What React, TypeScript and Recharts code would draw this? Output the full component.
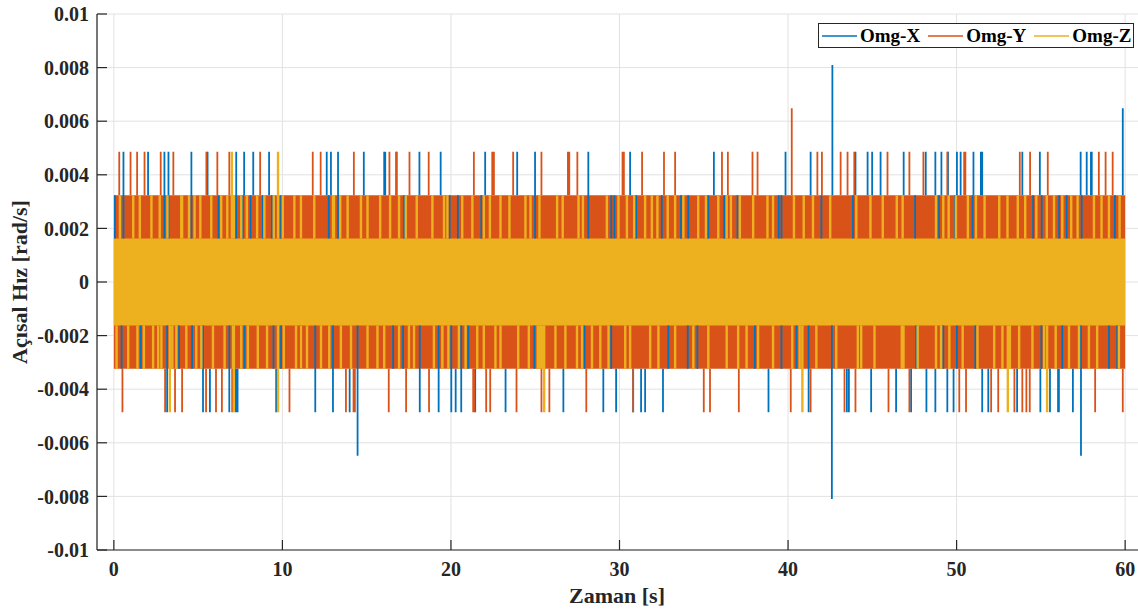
import React from 'react';
import { ComposedChart, Line, Area, XAxis, YAxis, CartesianGrid, Legend } from 'recharts';

// ---------- data ----------
const seriesNames = ['Omg-X', 'Omg-Y', 'Omg-Z'];
const seriesColors = ['#0072BD', '#D95319', '#EDB120'];

// quantisation levels of the angular rate signal (rad/s)
const levels = [0.00162, 0.00324, 0.00486, 0.00648, 0.0081];
const timeSpan = [0, 60];

const xTicks = [0, 10, 20, 30, 40, 50, 60];
const xTickLabels = ['0', '10', '20', '30', '40', '50', '60'];
const yTicks = [-0.01, -0.008, -0.006, -0.004, -0.002, 0, 0.002, 0.004, 0.006, 0.008, 0.01];
const yTickLabels = ['-0.01', '-0.008', '-0.006', '-0.004', '-0.002', '0', '0.002', '0.004', '0.006', '0.008', '0.01'];

// Omg-X (blue) peaks
const xUp3 = [0.57, 2.03, 3.0, 3.24, 4.6, 5.56, 7.26, 7.73, 8.27, 9.21, 12.63, 12.88, 13.3, 14.83, 16.04, 16.1, 16.75, 18.13, 19.39, 22.03, 23.93, 24.99, 28.15, 30.63, 35.6, 39.85, 41.34, 44.0, 44.72, 44.99, 45.49, 46.86, 48.17, 48.74, 49.1, 49.49, 50.02, 50.24, 51.0, 51.44, 51.52, 53.9, 54.94, 57.36, 57.72, 57.97, 58.02];
const xUp4 = [59.86];
const xUp5 = [42.63];
const xDn3 = [3.16, 5.29, 5.7, 6.85, 7.24, 7.34, 9.63, 11.95, 13.0, 13.99, 18.15, 19.27, 20.02, 20.28, 20.61, 21.44, 23.24, 26.67, 29.04, 29.8, 30.81, 31.28, 31.52, 32.58, 38.84, 41.22, 43.49, 43.61, 44.93, 46.41, 47.3, 48.21, 48.74, 49.45, 49.82, 51.52, 51.88, 53.59, 54.97, 55.54, 56.02, 56.07, 56.9];
const xDn4 = [14.46, 57.38];
const xDn5 = [42.6];
// Omg-X visible inside the Omg-Y band
const xBandUp = [0.06, 0.57, 3.0, 3.24, 4.6, 6.21, 7.26, 7.66, 8.11, 8.84, 9.37, 9.92, 12.75, 13.3, 17.22, 19.92, 20.41, 21.8, 24.99, 28.15, 29.51, 29.7, 30.99, 32.51, 33.65, 34.08, 35.27, 36.21, 37.0, 39.45, 39.61, 41.98, 43.85, 47.54, 48.96, 49.91, 50.95, 54.54, 55.05, 56.08, 56.53, 57.42, 59.39];
const xBandDn = [0.46, 1.6, 3.16, 3.87, 4.64, 5.29, 6.85, 7.75, 9.47, 9.92, 11.07, 11.95, 13.0, 14.46, 16.57, 17.16, 18.15, 19.27, 20.02, 20.61, 21.03, 24.95, 27.93, 29.51, 32.9, 34.05, 34.62, 38.03, 39.61, 40.5, 41.22, 42.6, 47.6, 49.21, 50.02, 51.11, 55.03, 56.27, 57.38, 59.04, 59.53];

// Omg-Y (orange) peaks
const yUp3 = [0.32, 0.99, 1.38, 1.82, 2.78, 3.53, 5.49, 6.14, 6.85, 8.68, 11.8, 12.27, 14.24, 16.35, 16.79, 17.54, 18.68, 21.36, 22.45, 22.55, 23.69, 25.37, 26.94, 27.02, 27.5, 30.18, 30.26, 31.34, 32.64, 33.3, 36.08, 36.43, 37.89, 38.19, 41.74, 42.01, 43.12, 43.53, 43.93, 45.9, 47.2, 48.03, 49.45, 50.45, 50.52, 53.75, 54.36, 55.41, 58.44, 58.84, 59.26];
const yUp4 = [40.22];
const yDn3 = [0.51, 3.04, 3.63, 4.05, 5.47, 6.06, 6.41, 7.02, 10.42, 13.77, 14.22, 14.3, 16.31, 17.34, 18.7, 21.32, 21.38, 22.09, 22.33, 23.89, 25.37, 25.84, 28.03, 30.81, 35.0, 35.37, 37.08, 40.16, 41.34, 43.35, 44.0, 45.96, 47.2, 50.16, 50.56, 52.05, 52.47, 53.43, 53.9, 54.14, 54.34, 58.22, 59.86];

// Omg-Z (yellow) peaks
const zUp3 = [7.0, 9.74];
const zDn3 = [3.32, 7.12, 9.74, 25.53, 40.85, 53.04, 55.37];
// Omg-Z reaching the Omg-Y band
const zBandUp = [0.36, 1.15, 1.54, 2.23, 2.72, 3.18, 4.0, 4.05, 4.46, 4.79, 5.13, 5.78, 6.37, 6.73, 7.12, 7.56, 7.89, 8.5, 8.93, 9.49, 10.02, 10.71, 11.1, 11.89, 13.0, 13.06, 13.43, 13.87, 14.66, 15.05, 15.8, 16.39, 16.92, 17.32, 17.97, 18.9, 19.59, 19.79, 20.67, 21.27, 21.95, 22.31, 22.94, 23.47, 24.42, 24.72, 25.25, 26.3, 26.63, 27.57, 27.83, 29.25, 29.94, 30.44, 30.87, 31.52, 31.92, 32.25, 32.86, 33.3, 33.79, 34.67, 35.13, 35.86, 36.36, 36.61, 37.14, 37.93, 38.78, 39.11, 40.35, 40.93, 41.48, 42.5, 44.05, 44.89, 45.62, 46.45, 46.8, 48.78, 49.21, 49.53, 49.96, 50.67, 51.15, 51.66, 52.53, 53.02, 53.63, 54.07, 54.73, 55.35, 55.78, 56.27, 56.8, 57.18, 58.15, 58.6, 59.04, 59.67];
const zBandDn = [0.16, 0.85, 1.4, 1.78, 2.33, 2.63, 2.82, 3.47, 3.71, 4.3, 4.89, 5.19, 5.88, 6.57, 7.07, 7.56, 7.95, 8.54, 9.09, 10.08, 10.81, 11.1, 11.46, 12.29, 12.78, 13.47, 14.07, 15.05, 15.64, 16.04, 16.92, 17.51, 17.81, 18.99, 19.49, 19.85, 20.47, 20.87, 21.56, 21.95, 22.64, 22.94, 23.99, 24.62, 25.15, 25.25, 25.31, 25.4, 25.48, 26.2, 26.79, 27.48, 27.78, 28.37, 28.86, 29.35, 30.34, 30.63, 31.82, 32.31, 33.3, 34.38, 35.27, 36.36, 37.04, 37.54, 38.22, 39.11, 40.25, 40.69, 41.68, 42.86, 44.14, 44.34, 45.13, 46.75, 46.85, 47.69, 48.78, 49.08, 49.57, 50.36, 51.24, 52.23, 52.72, 53.16, 53.71, 54.5, 55.19, 55.88, 56.67, 57.26, 57.85, 58.34, 59.63];

// ---------- tables built for the library ----------
type Pt = { t: number; v: number | null };
const segs = (times: number[], from: number, to: number, sign: number): Pt[] => {
  const out: Pt[] = [];
  times.forEach((t) => {
    out.push({ t, v: sign * levels[from] });
    out.push({ t, v: sign * levels[to] });
    out.push({ t, v: null });
  });
  return out;
};

const blueData: Pt[] = [
  ...segs(xBandUp, 0, 1, 1),
  ...segs(xBandDn, 0, 1, -1),
  ...segs(xUp3, 1, 2, 1),
  ...segs(xUp4, 1, 3, 1),
  ...segs(xUp5, 1, 4, 1),
  ...segs(xDn3, 1, 2, -1),
  ...segs(xDn4, 1, 3, -1),
  ...segs(xDn5, 1, 4, -1),
];
const orangeData: Pt[] = [
  ...segs(yUp3, 1, 2, 1),
  ...segs(yUp4, 1, 3, 1),
  ...segs(yDn3, 1, 2, -1),
];
const yellowData: Pt[] = [
  ...segs(zBandUp, 0, 1, 1),
  ...segs(zBandDn, 0, 1, -1),
  ...segs(zUp3, 0, 2, 1),
  ...segs(zDn3, 0, 2, -1),
];
const orangeBand = timeSpan.map((t) => ({ t, r: [-levels[1], levels[1]] }));
const yellowBand = timeSpan.map((t) => ({ t, r: [-levels[0], levels[0]] }));

const FONT = '"Liberation Serif", "Times New Roman", serif';
const INK = '#262626';

const renderLegend = () => (
  <div
    style={{
      boxSizing: 'border-box',
      width: 316,
      height: 25,
      border: `1px solid ${INK}`,
      background: '#fff',
      display: 'flex',
      alignItems: 'center',
      paddingLeft: 3,
      fontFamily: FONT,
      fontWeight: 'bold',
      fontSize: 19,
      color: '#000',
      whiteSpace: 'nowrap',
    }}
  >
    {seriesNames.map((n, i) => (
      <span key={n} style={{ display: 'inline-flex', alignItems: 'center', marginRight: i < 2 ? 8 : 0 }}>
        <svg width={35} height={4} style={{ display: 'block' }}>
          <line x1={0} y1={2} x2={35} y2={2} stroke={seriesColors[i]} strokeWidth={1.5} />
        </svg>
        <span style={{ marginLeft: 3, lineHeight: '23px' }}>{n}</span>
      </span>
    ))}
  </div>
);

const YLabel = (props: any) => {
  const vb = props.viewBox || {};
  const x = 27;
  const y = (vb.y || 0) + (vb.height || 0) / 2;
  return (
    <text
      x={x}
      y={y}
      transform={`rotate(-90, ${x}, ${y})`}
      textAnchor="middle"
      fontFamily={FONT}
      fontWeight="bold"
      fontSize={22}
      fill={INK}
    >
      Açısal Hız [rad/s]
    </text>
  );
};

const XLabel = (props: any) => {
  const vb = props.viewBox || {};
  const cx = 617;
  const y = (vb.y || 0) + 53;
  return (
    <text x={cx} y={y} textAnchor="middle" fontFamily={FONT} fontWeight="bold" fontSize={22} fill={INK}>
      Zaman [s]
    </text>
  );
};

const tickStyle = { fontFamily: FONT, fontWeight: 'bold' as const, fontSize: 20, fill: INK };

export default function App() {
  return (
    <div style={{ position: 'absolute', left: 0, top: 0, width: 1138, height: 610, overflow: 'hidden', background: '#fff' }}>
      <ComposedChart width={1143} height={610} margin={{ top: 14, right: 1, bottom: 0, left: 0 }}>
        <CartesianGrid xAxisId="b" yAxisId="l" stroke="#e2e2e2" strokeWidth={1} verticalPoints={undefined} />
        <XAxis
          xAxisId="b"
          dataKey="t"
          type="number"
          domain={[-1, 61]}
          allowDataOverflow
          ticks={xTicks}
          tickFormatter={(v: number) => xTickLabels[xTicks.indexOf(v)] ?? String(v)}
          height={60}
          tickSize={-10}
          tickMargin={22}
          tick={tickStyle}
          axisLine={{ stroke: INK, strokeWidth: 1.2 }}
          tickLine={{ stroke: INK, strokeWidth: 1.2 }}
          interval={0}
          label={<XLabel />}
        />
        <XAxis
          xAxisId="t"
          orientation="top"
          dataKey="t"
          type="number"
          domain={[-1, 61]}
          allowDataOverflow
          ticks={xTicks}
          height={0}
          tickSize={-10}
          tick={false}
          axisLine={{ stroke: INK, strokeWidth: 1.2 }}
          tickLine={{ stroke: INK, strokeWidth: 1.2 }}
          interval={0}
        />
        <YAxis
          yAxisId="l"
          type="number"
          domain={[-0.01, 0.01]}
          allowDataOverflow
          ticks={yTicks}
          tickFormatter={(v: number) => yTickLabels[yTicks.indexOf(v)] ?? String(v)}
          width={97}
          tickSize={-10}
          tickMargin={18}
          tick={tickStyle}
          axisLine={{ stroke: INK, strokeWidth: 1.2 }}
          tickLine={{ stroke: INK, strokeWidth: 1.2 }}
          interval={0}
          label={<YLabel />}
        />
        <YAxis
          yAxisId="r"
          orientation="right"
          type="number"
          domain={[-0.01, 0.01]}
          allowDataOverflow
          ticks={yTicks}
          width={0}
          tickSize={-10}
          tick={false}
          axisLine={{ stroke: INK, strokeWidth: 1.2 }}
          tickLine={{ stroke: INK, strokeWidth: 1.2 }}
          interval={0}
        />
        <Line
          xAxisId="b"
          yAxisId="l"
          data={blueData}
          dataKey="v"
          type="linear"
          stroke={seriesColors[0]}
          strokeWidth={1.8}
          dot={false}
          activeDot={false}
          connectNulls={false}
          isAnimationActive={false}
          legendType="none"
        />
        <Area
          xAxisId="b"
          yAxisId="l"
          data={orangeBand}
          dataKey="r"
          type="linear"
          stroke="none"
          fill={seriesColors[1]}
          fillOpacity={1}
          isAnimationActive={false}
          legendType="none"
        />
        <Line
          xAxisId="b"
          yAxisId="l"
          data={orangeData}
          dataKey="v"
          type="linear"
          stroke={seriesColors[1]}
          strokeWidth={1.8}
          dot={false}
          activeDot={false}
          connectNulls={false}
          isAnimationActive={false}
          legendType="none"
        />
        <Area
          xAxisId="b"
          yAxisId="l"
          data={yellowBand}
          dataKey="r"
          type="linear"
          stroke="none"
          fill={seriesColors[2]}
          fillOpacity={1}
          isAnimationActive={false}
          legendType="none"
        />
        <Line
          xAxisId="b"
          yAxisId="l"
          data={yellowData}
          dataKey="v"
          type="linear"
          stroke={seriesColors[2]}
          strokeWidth={2.4}
          dot={false}
          activeDot={false}
          connectNulls={false}
          isAnimationActive={false}
          legendType="none"
        />
        <Legend
          content={renderLegend}
          layout="horizontal"
          verticalAlign="middle"
          align="center"
          wrapperStyle={{ position: 'absolute', top: 23, left: 818, width: 316, height: 25 }}
        />
      </ComposedChart>
    </div>
  );
}
